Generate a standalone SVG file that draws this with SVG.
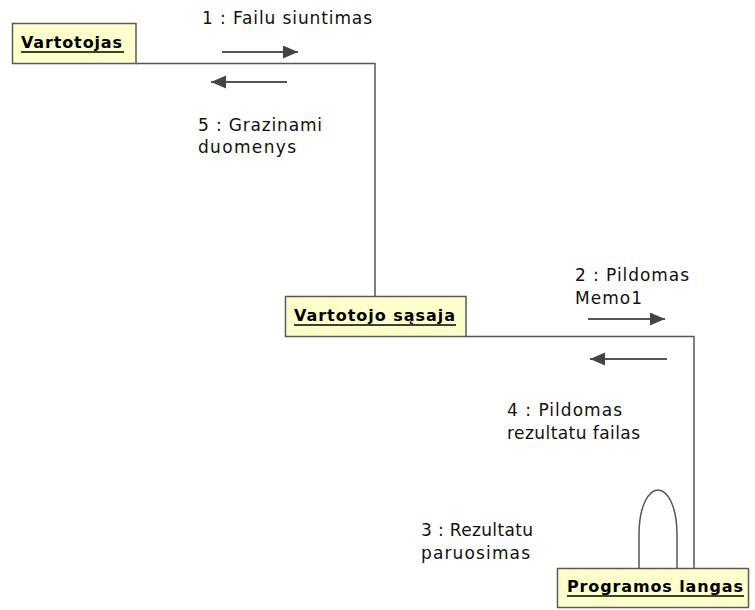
<svg xmlns="http://www.w3.org/2000/svg" width="755" height="610" viewBox="0 0 755 610">
  <style>
    .obj { fill: #ffffcc; stroke: #5a5a5a; stroke-width: 1.5; }
    .name { font-family: "DejaVu Sans", Verdana, sans-serif; font-weight: bold; font-size: 16px; fill: #000; }
    .uline { stroke: #000; stroke-width: 1.6; }
    .link { fill: none; stroke: #555; stroke-width: 1.5; }
    .msg { stroke: #555; stroke-width: 1.8; marker-end: url(#head); }
    .lbl { font-family: "DejaVu Sans", Verdana, sans-serif; font-size: 17px; fill: #111; }
  </style>
  <defs>
    <marker id="head" markerUnits="userSpaceOnUse" markerWidth="16" markerHeight="14" refX="15" refY="6.5" orient="auto">
      <path d="M0,0 L15,6.5 L0,13 Z" fill="#444"/>
    </marker>
  </defs>
  <rect width="755" height="610" fill="#fff"/>

  <!-- links between objects, with message arrows -->
  <g id="connectors">
    <path class="link" d="M136,63.5 H375 V296"/>
    <path class="link" d="M466,336.5 H694 V568"/>
    <path class="link" d="M639,568 V535 C639,505 649,490 658,490 C667,490 677,505 677,535 V568"/>
    <line class="msg" x1="222" y1="52" x2="298" y2="52"/>
    <line class="msg" x1="287" y1="82" x2="211" y2="82"/>
    <line class="msg" x1="588" y1="319" x2="665" y2="319"/>
    <line class="msg" x1="667" y1="359" x2="590" y2="359"/>
  </g>

  <g id="labels">
    <text class="lbl" x="202" y="24" textLength="170" lengthAdjust="spacing">1 : Failu siuntimas</text>
    <text class="lbl" x="198" y="131" textLength="124" lengthAdjust="spacing">5 : Grazinami</text>
    <text class="lbl" x="198" y="153" textLength="98" lengthAdjust="spacing">duomenys</text>
    <text class="lbl" x="575" y="281" textLength="114" lengthAdjust="spacing">2 : Pildomas</text>
    <text class="lbl" x="575" y="304" textLength="67" lengthAdjust="spacing">Memo1</text>
    <text class="lbl" x="507" y="416" textLength="115" lengthAdjust="spacing">4 : Pildomas</text>
    <text class="lbl" x="507" y="439" textLength="133" lengthAdjust="spacing">rezultatu failas</text>
    <text class="lbl" x="421" y="536" textLength="112" lengthAdjust="spacing">3 : Rezultatu</text>
    <text class="lbl" x="421" y="559" textLength="109" lengthAdjust="spacing">paruosimas</text>
  </g>

  <g id="vartotojas">
    <rect class="obj" x="12.5" y="23.5" width="123.5" height="40"/>
    <text class="name" x="21" y="48" textLength="101" lengthAdjust="spacing">Vartotojas</text>
    <line class="uline" x1="21" y1="52" x2="124" y2="52"/>
  </g>

  <g id="vartotojo-sasaja">
    <rect class="obj" x="285.5" y="296.5" width="180.5" height="40"/>
    <text class="name" x="294" y="321" textLength="161" lengthAdjust="spacing">Vartotojo sąsaja</text>
    <line class="uline" x1="294" y1="325" x2="456" y2="325"/>
  </g>

  <g id="programos-langas">
    <rect class="obj" x="557.5" y="568.5" width="191" height="39"/>
    <text class="name" x="567" y="592" textLength="176" lengthAdjust="spacing">Programos langas</text>
    <line class="uline" x1="567" y1="596" x2="744" y2="596"/>
  </g>
</svg>
